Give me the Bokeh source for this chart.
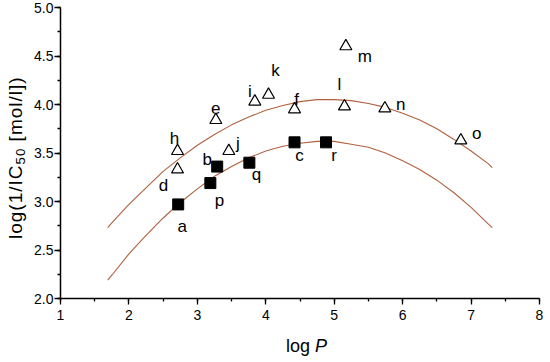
from bokeh.plotting import figure
from bokeh.models import Range1d, SingleIntervalTicker, PrintfTickFormatter, ColumnDataSource, Div
from bokeh.layouts import column, row
from bokeh.embed import file_html
from bokeh.resources import INLINE

# ---- data ----
# filled squares
sq_names = ["a", "p", "b", "q", "c", "r"]
sq_logp = [2.72, 3.19, 3.29, 3.76, 4.42, 4.88]
sq_act = [2.97, 3.19, 3.36, 3.40, 3.61, 3.61]

# open triangles
tri_names = ["d", "h", "e", "j", "i", "k", "f", "l", "m", "n", "o"]
tri_logp = [2.71, 2.71, 3.27, 3.46, 3.84, 4.04, 4.42, 5.15, 5.17, 5.74, 6.85]
tri_act = [3.33, 3.52, 3.84, 3.52, 4.03, 4.10, 3.95, 3.98, 4.60, 3.96, 3.63]

# fitted parabolic curves
fit_logp = [1.69, 1.75, 2.0, 2.25, 2.5, 2.75, 3.0, 3.25, 3.5, 3.75, 4.0, 4.25, 4.5,
            4.75, 5.0, 5.25, 5.5, 5.75, 6.0, 6.25, 6.5, 6.75, 7.0, 7.25, 7.31]
fit_upper = [2.73, 2.78, 2.97, 3.14, 3.31, 3.45, 3.58, 3.69, 3.79, 3.87, 3.94, 3.99, 4.03,
             4.05, 4.05, 4.04, 4.01, 3.97, 3.91, 3.84, 3.75, 3.64, 3.52, 3.39, 3.35]
fit_lower = [2.19, 2.24, 2.46, 2.65, 2.83, 2.99, 3.13, 3.26, 3.36, 3.45, 3.52, 3.57, 3.60,
             3.62, 3.62, 3.59, 3.56, 3.50, 3.42, 3.33, 3.22, 3.09, 2.94, 2.77, 2.73]

x_title_html = 'log <i>P</i>'
y_title_html = 'log(1/IC<sub style="font-size:70%">50</sub> [mol/l])'

# ---- label placement (screen px offsets from the point) ----
label_offsets = {
    "a": (4, 22), "p": (9, 17), "b": (-10, -7), "q": (7, 12), "c": (5, 13), "r": (8, 13),
    "d": (-14, 16), "h": (-3, -13), "e": (0, -12), "j": (9, -8), "i": (-5, -10),
    "k": (7, -24), "f": (2, -10), "l": (-5, -22), "m": (19, 10), "n": (16, -4), "o": (16, -7),
}

FONT = "Liberation Sans"
CURVE = "#b0603e"
YT_W = 21          # width of the y-title strip
TOP = 7            # border above the plot frame
FRAME_H = 291
BOTTOM = 28

p = figure(width=534 - YT_W, height=TOP + FRAME_H + BOTTOM, output_backend="svg",
           toolbar_location=None, x_range=Range1d(1, 8), y_range=Range1d(2, 5),
           min_border_left=53 - 8 - YT_W, min_border_right=5,
           min_border_top=TOP, min_border_bottom=BOTTOM)
p.outline_line_color = None
p.xgrid.visible = False
p.ygrid.visible = False
p.background_fill_color = "white"
p.border_fill_color = "white"

p.line(fit_logp, fit_upper, line_color=CURVE, line_width=1.1)
p.line(fit_logp, fit_lower, line_color=CURVE, line_width=1.1)

p.scatter(tri_logp, tri_act, marker="triangle", size=12, fill_color="white",
          line_color="black", line_width=1.2)
p.scatter(sq_logp, sq_act, marker="square", size=11, fill_color="black",
          line_color="black")

names = sq_names + tri_names
src = ColumnDataSource(dict(x=sq_logp + tri_logp, y=sq_act + tri_act, t=names,
                            dx=[label_offsets[n][0] for n in names],
                            dy=[label_offsets[n][1] for n in names]))
p.text(x="x", y="y", text="t", x_offset="dx", y_offset="dy", source=src,
       text_align="center", text_baseline="middle", text_font_size="17px",
       text_color="black", text_font={"value": FONT})

for ax in (p.xaxis[0], p.yaxis[0]):
    ax.axis_label = None
    ax.axis_label_standoff = 0
    ax.axis_line_width = 1.5
    ax.axis_line_color = "black"
    ax.major_tick_line_color = "black"
    ax.minor_tick_line_color = "black"
    ax.major_tick_line_width = 1.3
    ax.minor_tick_line_width = 1.3
    ax.major_tick_in = 0
    ax.major_tick_out = 6
    ax.minor_tick_in = 0
    ax.minor_tick_out = 3
    ax.major_label_text_font = FONT
    ax.major_label_text_font_size = "14px"
    ax.major_label_text_color = "black"

p.xaxis.ticker = SingleIntervalTicker(interval=1, num_minor_ticks=2)
p.yaxis.ticker = SingleIntervalTicker(interval=0.5, num_minor_ticks=2)
p.yaxis.formatter = PrintfTickFormatter(format="%.1f")
p.xaxis.major_label_standoff = 5
p.yaxis.major_label_standoff = 1

xt = Div(text='<div style="position:relative; left:%dpx; top:5px; white-space:nowrap;">%s</div>'
              % (279 - 8 - YT_W, x_title_html),
         width=534 - YT_W, height=20,
         styles={"font-family": FONT, "font-size": "18px", "color": "black",
                 "line-height": "20px"})

yt = Div(text=('<div style="position:absolute; left:0px; top:%dpx; width:%dpx; height:%dpx; '
               'writing-mode:vertical-rl; transform:rotate(180deg); text-align:center; '
               'white-space:nowrap; letter-spacing:1px; line-height:%dpx;">%s</div>')
              % (TOP, YT_W, FRAME_H, YT_W, y_title_html),
         width=YT_W, height=TOP + FRAME_H + BOTTOM + 20,
         styles={"font-family": FONT, "font-size": "19px", "color": "black"})

layout = row(yt, column(p, xt))
open("out.html", "w").write(file_html(layout, INLINE))
